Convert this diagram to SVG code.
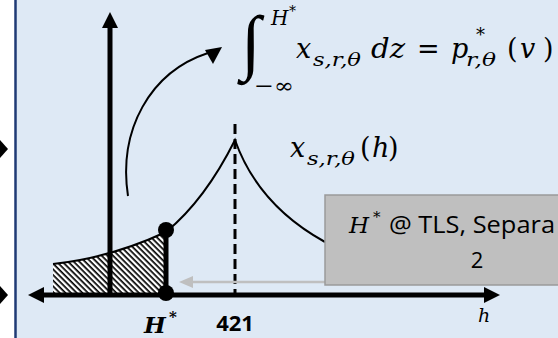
<svg xmlns="http://www.w3.org/2000/svg" width="558" height="338" viewBox="0 0 558 338">
<style>
.m{font-family:"DejaVu Serif","Liberation Serif",serif;font-style:italic;fill:#000}
.mu{font-family:"DejaVu Serif","Liberation Serif",serif;fill:#000}
.sans{font-family:"Open Sans","Liberation Sans",sans-serif;fill:#000}
.thick{stroke:#000;stroke-width:5;fill:none}
.thin{stroke:#000;stroke-width:2;fill:none}
</style>
<defs>
<pattern id="hatch" width="4" height="4" patternUnits="userSpaceOnUse" patternTransform="rotate(45)">
<rect width="4" height="4" fill="#fff"/>
<rect width="4" height="1.7" fill="#000"/>
</pattern>
</defs>
<rect x="0" y="0" width="558" height="338" fill="#fff"/>
<rect x="16" y="0" width="542" height="338" fill="#dee9f5"/>
<line x1="15.5" y1="0" x2="15.5" y2="338" stroke="#1f3a75" stroke-width="2.5"/>
<!-- cut-off incoming arrowheads -->
<path d="M0,140 L8,149 L0,158 z" fill="#000"/>
<path d="M0,286 L8,295 L0,304 z" fill="#000"/>

<g id="hatched-area">
<path d="M53,264 Q110,258 166,232 L166,294 L53,294 z" fill="url(#hatch)"/>
</g>

<g id="connectors">
<line class="thick" x1="110" y1="294" x2="110" y2="26"/>
<path d="M102,28 L110,12 L118,28 z" fill="#000"/>
<line class="thick" x1="44" y1="295" x2="485" y2="295"/>
<path d="M44,287 L28,295 L44,303 z" fill="#000"/>
<path d="M484,287 L500,295 L484,303 z" fill="#000"/>
<path class="thin" d="M53,264 Q110,258 166,232"/>
<path class="thin" d="M166,232 Q205,200 235,140 Q258,205 325,242"/>
<line x1="235" y1="124" x2="235" y2="294" stroke="#000" stroke-width="3" stroke-dasharray="10,5"/>
<line x1="166" y1="230" x2="166" y2="294" stroke="#000" stroke-width="5"/>
<path class="thin" d="M128,196 C118,130 150,72 208,53" stroke-width="2.5"/>
<path d="M222,47 L205,50 L213,64 z" fill="#000"/>
<line x1="325" y1="282" x2="192" y2="282" stroke="#bfbfbf" stroke-width="2.5"/>
<path d="M193,276 L179,282 L193,288 z" fill="#bfbfbf"/>
</g>

<g id="dots">
<circle cx="166" cy="230" r="8" fill="#000"/>
<circle cx="166" cy="293" r="8" fill="#000"/>
</g>

<g id="integral-label">
<text x="241" y="66" font-family="Liberation Serif, serif" font-size="72">∫</text>
<text class="m" x="271" y="25" font-size="20">H</text>
<text class="mu" x="289" y="16" font-size="14">*</text>
<text class="mu" x="254" y="93" font-size="21" textLength="40" lengthAdjust="spacingAndGlyphs">−∞</text>
<text class="m" x="296" y="58" font-size="27">x</text>
<text class="m" x="313" y="66" font-size="19" textLength="48" lengthAdjust="spacingAndGlyphs">s,r,θ</text>
<text class="m" x="371" y="58" font-size="27" textLength="34" lengthAdjust="spacingAndGlyphs">dz</text>
<text class="mu" x="417" y="58" font-size="27">=</text>
<text class="m" x="451" y="58" font-size="27">p</text>
<text class="mu" x="476" y="41" font-size="18">*</text>
<text class="m" x="466" y="66" font-size="19" textLength="30" lengthAdjust="spacingAndGlyphs">r,θ</text>
<text class="mu" x="507" y="58" font-size="27">(</text>
<text class="m" x="520" y="58" font-size="27">v</text>
<text class="mu" x="543" y="58" font-size="27">)</text>
</g>

<g id="curve-label">
<text class="m" x="290" y="157" font-size="27">x</text>
<text class="m" x="307" y="165" font-size="19" textLength="48" lengthAdjust="spacingAndGlyphs">s,r,θ</text>
<text class="mu" x="360" y="157" font-size="27">(</text>
<text class="m" x="372" y="157" font-size="27">h</text>
<text class="mu" x="388" y="157" font-size="27">)</text>
</g>

<g id="box">
<rect x="325" y="195" width="240" height="90" fill="#bfbfbf" stroke="#9a9a9a" stroke-width="1.5"/>
<text class="m" x="349" y="233" font-size="23">H</text>
<text class="mu" x="373" y="222" font-size="15">*</text>
<text class="sans" x="389" y="233" font-size="23" textLength="166" lengthAdjust="spacingAndGlyphs">@ TLS, Separa</text>
<text class="sans" x="477" y="268" font-size="22" text-anchor="middle">2</text>
</g>

<g id="axis-labels">
<text class="m" x="144" y="333" font-size="23" font-weight="bold">H</text>
<text class="mu" x="169" y="322" font-size="15" font-weight="bold">*</text>
<text class="sans" x="235" y="331" font-size="22" font-weight="bold" text-anchor="middle">421</text>
<text class="m" x="478" y="322" font-size="19">h</text>
</g>
</svg>
